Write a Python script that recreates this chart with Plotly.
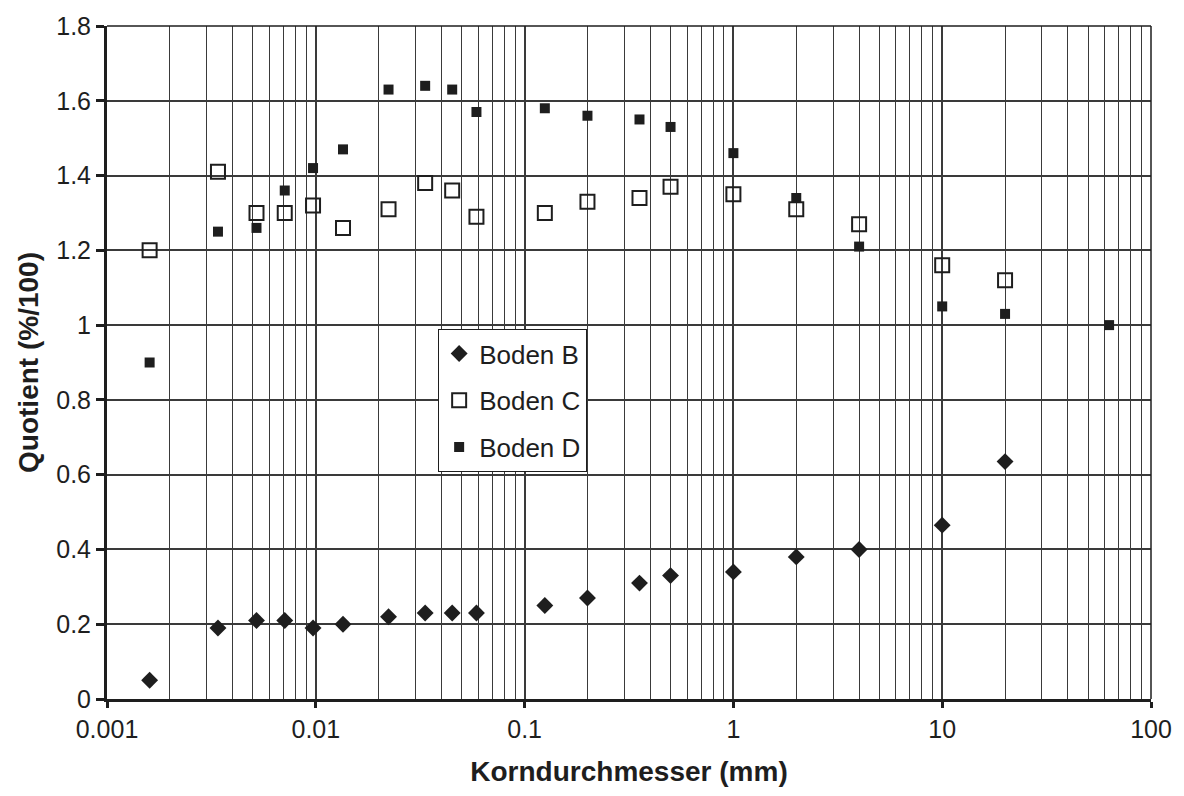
import plotly.graph_objects as go

# Grain diameters (mm)
x_common = [0.0016, 0.0034, 0.0052, 0.0071, 0.0097, 0.0135, 0.0223, 0.0334, 0.045, 0.0588,
            0.125, 0.2, 0.355, 0.5, 1.0, 2.0, 4.0, 10.0, 20.0]
x_boden_d = x_common + [63.0]

# Quotient values (%/100)
boden_b = [0.05, 0.19, 0.21, 0.21, 0.19, 0.20, 0.22, 0.23, 0.23, 0.23,
           0.25, 0.27, 0.31, 0.33, 0.34, 0.38, 0.40, 0.465, 0.635]
boden_c = [1.20, 1.41, 1.30, 1.30, 1.32, 1.26, 1.31, 1.38, 1.36, 1.29,
           1.30, 1.33, 1.34, 1.37, 1.35, 1.31, 1.27, 1.16, 1.12]
boden_d = [0.90, 1.25, 1.26, 1.36, 1.42, 1.47, 1.63, 1.64, 1.63, 1.57,
           1.58, 1.56, 1.55, 1.53, 1.46, 1.34, 1.21, 1.05, 1.03, 1.00]

x_ticks = [0.001, 0.01, 0.1, 1, 10, 100]
x_tick_text = ["0.001", "0.01", "0.1", "1", "10", "100"]
y_ticks = [0, 0.2, 0.4, 0.6, 0.8, 1, 1.2, 1.4, 1.6, 1.8]
y_tick_text = ["0", "0.2", "0.4", "0.6", "0.8", "1", "1.2", "1.4", "1.6", "1.8"]

ink = "#1e1e1e"
grid = "#3a3a3a"
font = "Liberation Sans, Arial, sans-serif"

fig = go.Figure()
fig.add_trace(go.Scatter(
    x=x_common, y=boden_b, mode="markers", name="Boden B", legendgroup="b",
    marker=dict(symbol="diamond", size=13, color=ink, line=dict(width=0)),
))
fig.add_trace(go.Scatter(
    x=x_common, y=boden_c, mode="markers", name="Boden C", legendgroup="c",
    marker=dict(symbol="square-open", size=14, color=ink, line=dict(width=2, color=ink)),
))
fig.add_trace(go.Scatter(
    x=x_boden_d, y=boden_d, mode="markers", name="Boden D", legendgroup="d",
    marker=dict(symbol="square", size=10, color=ink, line=dict(width=0)),
))

fig.update_layout(
    width=1184, height=796,
    margin=dict(l=107, r=27, t=22, b=97),
    paper_bgcolor="white", plot_bgcolor="white",
    font=dict(family=font, size=24, color=ink),
    showlegend=True,
    legend=dict(
        x=0.317, y=0.55, xanchor="left", yanchor="top",
        bgcolor="white", bordercolor=ink, borderwidth=1.2,
        font=dict(family=font, size=26, color=ink),
        tracegroupgap=10, traceorder="grouped",
        itemwidth=30,
    ),
)

fig.update_xaxes(
    type="log", range=[-3, 2],
    tickvals=x_ticks, ticktext=x_tick_text,
    ticks="outside", ticklen=6, tickwidth=3, tickcolor=ink,
    showgrid=True, gridcolor=grid, gridwidth=2,
    minor=dict(dtick="D1", showgrid=True, gridcolor=grid, gridwidth=1, ticks=""),
    showline=True, linecolor=ink, linewidth=3, mirror=False,
    tickfont=dict(family=font, size=25, color=ink),
    title=dict(text="<b>Korndurchmesser (mm)</b>", font=dict(family=font, size=28, color=ink), standoff=20),
    zeroline=False,
)
fig.update_yaxes(
    range=[0, 1.8],
    tickvals=y_ticks, ticktext=y_tick_text,
    ticks="outside", ticklen=8, tickwidth=3, tickcolor=ink,
    showgrid=True, gridcolor=grid, gridwidth=1.5,
    showline=True, linecolor=ink, linewidth=3,
    tickfont=dict(family=font, size=25, color=ink),
    title=dict(text="<b>Quotient (%/100)</b>", font=dict(family=font, size=28, color=ink), standoff=10),
    zeroline=False,
)

# thinner frame on top and right
fig.add_shape(type="line", xref="paper", yref="paper", x0=0, x1=1, y0=1, y1=1,
              line=dict(color=ink, width=1.5))
fig.add_shape(type="line", xref="paper", yref="paper", x0=1, x1=1, y0=0, y1=1,
              line=dict(color=ink, width=1.5))

fig.write_html("out.html", config={"displayModeBar": False},
               post_script="document.body.style.margin='0';")
